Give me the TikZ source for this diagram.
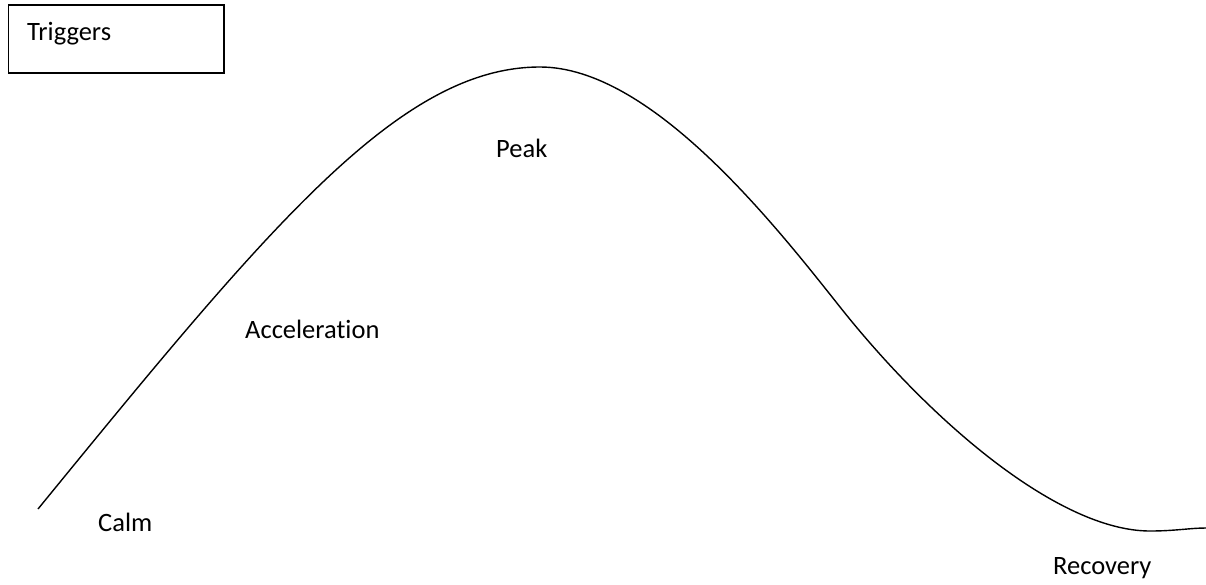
\documentclass[tikz,border=0pt]{standalone}
\usepackage{fontspec}
\setmainfont[Ligatures=NoCommon]{Carlito}
\begin{document}
\begin{tikzpicture}[x=1pt,y=-1pt,
  lbl/.style={anchor=base west,inner sep=0pt,font=\fontsize{26.5}{30}\selectfont},
  box/.style={draw,line width=1.5pt,minimum width=215.5pt,minimum height=68pt,anchor=north west,inner sep=0pt},
  curve/.style={line width=1.4pt}]
\useasboundingbox (0,0) rectangle (1206,584);
\node[box] (triggers) at (7.5,4) {};
\node[lbl] (trigtext) at (27,40) {Triggers};
\node[lbl] (calm) at (98,531) {Calm};
\node[lbl] (acc) at (245,338) {Acceleration};
\node[lbl] (peak) at (496,157) {Peak};
\node[lbl] (rec) at (1053,574) {Recovery};
\coordinate (s) at (38,509);
\coordinate (p) at (540,67);
\coordinate (i) at (840,307);
\coordinate (b) at (1150,531);
\coordinate (e) at (1206,528);
\draw[curve] (s) .. controls (270,225) and (400,67) .. (p)
  .. controls (650,67) and (772,221) .. (i)
  .. controls (933,424) and (1060,531) .. (b)
  .. controls (1175,531) and (1190,528) .. (e);
\end{tikzpicture}
\end{document}
